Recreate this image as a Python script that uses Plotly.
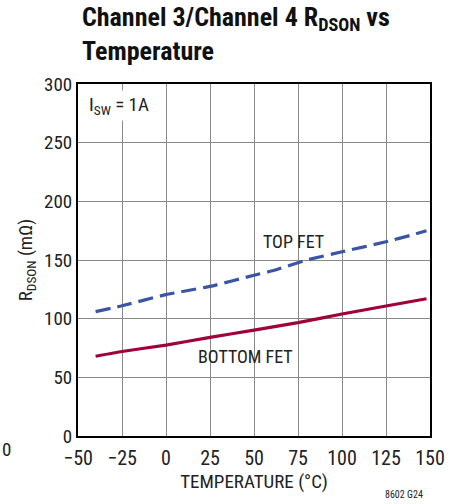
import plotly.graph_objects as go

# Temperature sweep (°C) and on-resistance (mΩ) for each FET
temp_top = [-40, -25, 0, 25, 50, 61, 80, 100, 125, 139, 148]
rdson_top = [106, 111, 120.5, 127.5, 137, 141, 150, 157, 165.5, 171, 175]

temp_bottom = [-40, -25, 0, 25, 50, 75, 100, 125, 148]
rdson_bottom = [68, 72, 77.5, 84, 90.3, 96.6, 104, 110.8, 117]

x_ticks = [-50, -25, 0, 25, 50, 75, 100, 125, 150]
x_tick_text = ["\u221250", "\u221225", "0", "25", "50", "75", "100", "125", "150"]
y_ticks = [0, 50, 100, 150, 200, 250, 300]

FONT = "Roboto Condensed, DejaVu Sans Condensed, Liberation Sans Narrow, Liberation Sans, sans-serif"

fig = go.Figure()
fig.add_trace(go.Scatter(
    x=temp_top, y=rdson_top, mode="lines",
    line=dict(color="#3a55a6", width=3.2, dash="15px,7px", shape="spline", smoothing=0.4),
    showlegend=False, hoverinfo="skip",
))
fig.add_trace(go.Scatter(
    x=temp_bottom, y=rdson_bottom, mode="lines",
    line=dict(color="#a0003a", width=3.2, shape="spline", smoothing=0.4),
    showlegend=False, hoverinfo="skip",
))

fig.update_layout(
    width=459, height=504,
    margin=dict(l=78, r=29, t=84, b=68),
    paper_bgcolor="white", plot_bgcolor="white",
    font=dict(family=FONT, size=19, color="#222"),
    xaxis=dict(
        range=[-50, 150], tickvals=x_ticks, ticktext=x_tick_text,
        showgrid=True, gridcolor="#8a8a8a", gridwidth=1.3,
        showline=True, linecolor="black", linewidth=2, mirror=True,
        ticks="", zeroline=False, ticklabelstandoff=3,
        tickfont=dict(size=20),
        title=dict(text="TEMPERATURE (\u00b0C)", font=dict(size=19), standoff=0),
    ),
    yaxis=dict(
        range=[0, 300], tickvals=y_ticks,
        showgrid=True, gridcolor="#8a8a8a", gridwidth=1.3,
        showline=True, linecolor="black", linewidth=2, mirror=True,
        ticks="", zeroline=False, tickfont=dict(size=19),
        title=dict(text="R<sub>DSON</sub> (m\u03a9)", font=dict(size=19), standoff=6),
    ),
)

annotations = [
    dict(text="<b>Channel 3/Channel 4 R<sub>DSON</sub> vs<br>Temperature</b>",
         xref="paper", yref="paper", x=0.005, y=1 + 84 / 352, xanchor="left", yanchor="top",
         align="left", showarrow=False, font=dict(size=26, color="#111")),
    dict(text="I<sub>SW</sub> = 1A", x=-45.5, y=282, xanchor="left", yanchor="middle",
         showarrow=False, bgcolor="white", borderpad=2, font=dict(size=19)),
    dict(text="TOP FET", x=72.5, y=165.5, showarrow=False, font=dict(size=18)),
    dict(text="BOTTOM FET", x=45, y=67.5, showarrow=False, font=dict(size=18)),
    dict(text="8602 G24", xref="paper", yref="paper", x=(425 - 78) / 352, y=-(495 - 436) / 352,
         xanchor="right", yanchor="middle", showarrow=False, font=dict(size=10)),
    dict(text="0", xref="paper", yref="paper", x=(0 - 78) / 352, y=-(449 - 436) / 352,
         xanchor="left", yanchor="middle", showarrow=False, font=dict(size=19)),
]
fig.update_layout(annotations=annotations)

fig.write_html("out.html")
